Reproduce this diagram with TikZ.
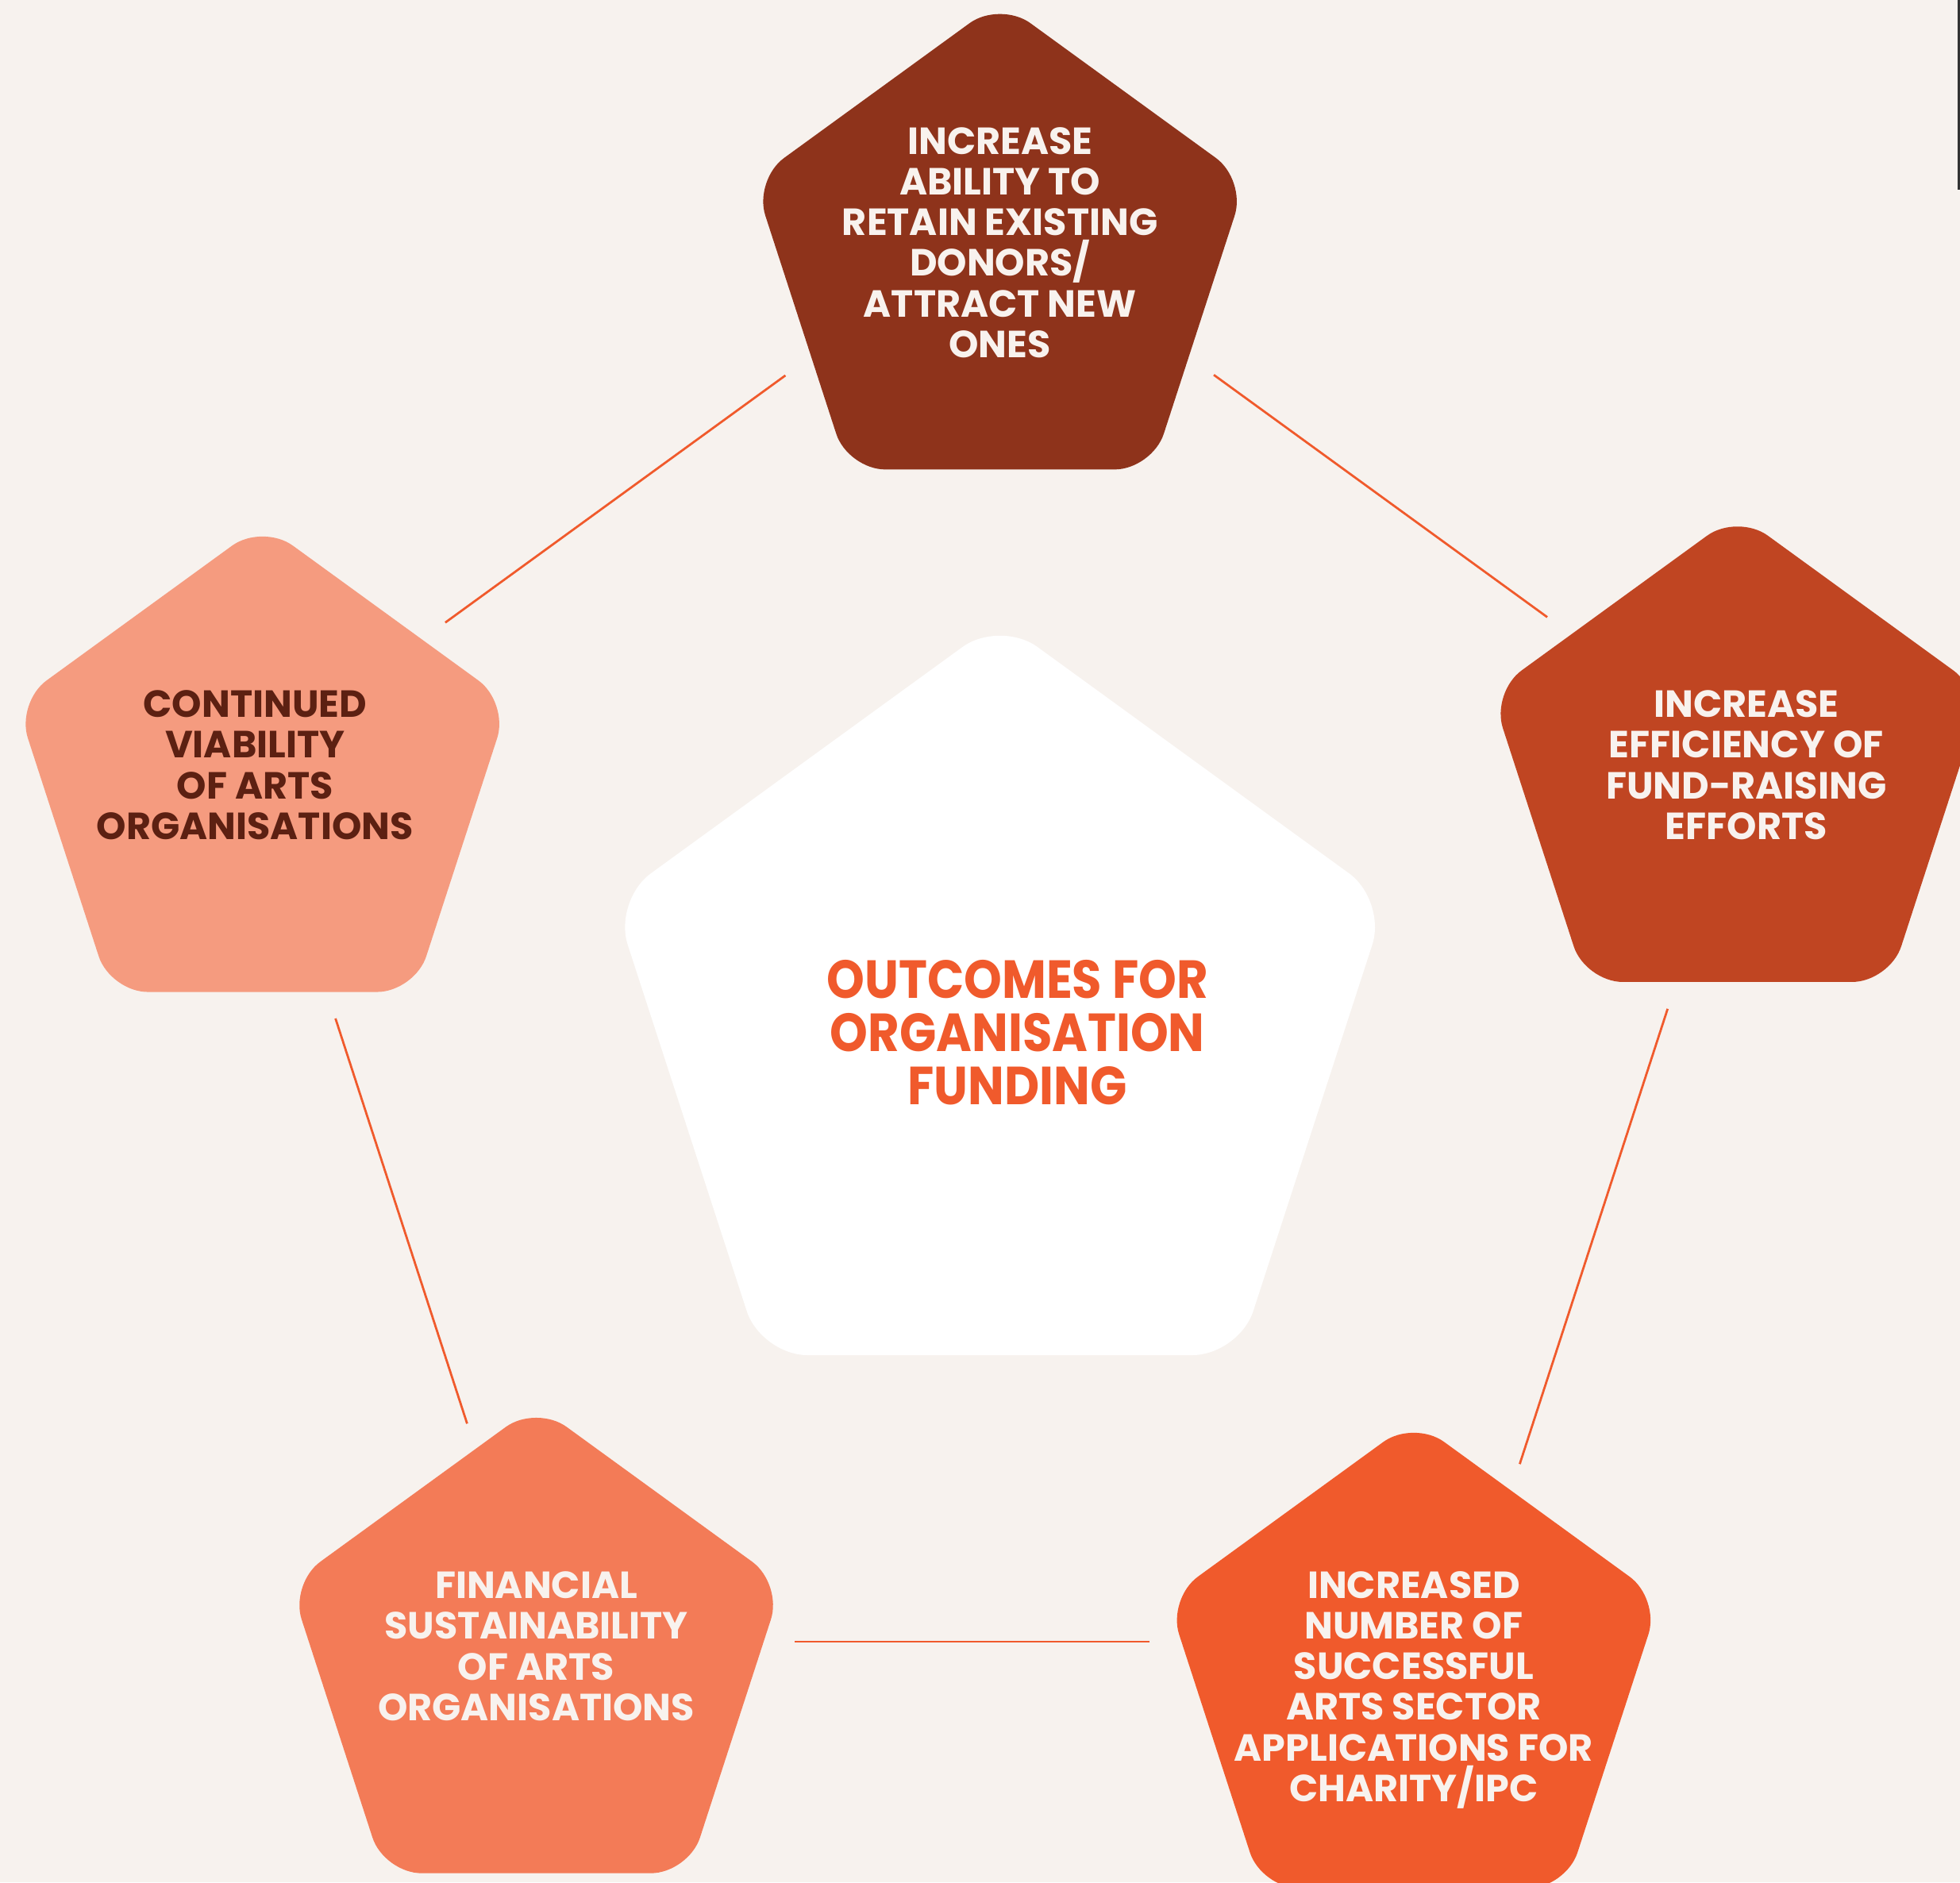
\documentclass[tikz,border=0pt]{standalone}
\usepackage{xcolor}
\usepackage{fontspec}
\newfontfamily\futura{Poppins}
\newfontfamily\futurahub[FakeStretch=0.9]{Poppins}
\usepackage{tikz}
\usetikzlibrary{shapes,backgrounds,calc}

\definecolor{paper}{HTML}{F7F2EE}
\definecolor{rust}{HTML}{8E331B}
\definecolor{brick}{HTML}{C04522}
\definecolor{flame}{HTML}{F05A2C}
\definecolor{coral}{HTML}{F37B57}
\definecolor{salmon}{HTML}{F59B7F}
\definecolor{cocoa}{HTML}{5C2012}
\definecolor{cream}{HTML}{F8F2EE}

\begin{document}
\begin{tikzpicture}[x=0.01cm, y=-0.01cm,
		penta/.style={regular polygon, regular polygon sides=5, minimum size=4.14cm,
			inner sep=0pt, outer sep=0pt, rounded corners=0.3cm},
		txt/.style={align=center, text=cream, inner sep=0pt,
			font=\futura\bfseries\fontsize{8.6}{9.25}\selectfont},
		link/.style={draw=flame, line width=0.5pt}]
		\fill[paper] (0,0) rectangle (1568,1506);
		\clip (0,0) rectangle (1568,1506);
		\fill[black!80] (1566.3,0) rectangle (1568,152);

		% ring the links run on
		\node [penta, minimum size=12.57cm, rounded corners=0pt] (ring) at (800,804.5) {};

		\begin{scope}
			\node [penta, fill=white, minimum size=6.5cm, rounded corners=0.37cm] (hub) at (800,821) {};
			\node [penta, fill=rust] (don) at (800,208) {};
			\node [penta, fill=brick] (eff) at (1390,618) {};
			\node [penta, fill=flame] (ipc) at (1131,1343) {};
			\node [penta, fill=coral] (fin) at (429,1331) {};
			\node [penta, fill=salmon] (via) at (210,626) {};

			\node [txt, text=flame, font=\futurahub\bfseries\fontsize{12.2}{12.1}\selectfont] (hub-t) at (814,826)
				{OUTCOMES FOR\\ORGANISATION\\FUNDING};
			\node [txt] (don-t) at (800,194)
				{INCREASE\\ABILITY TO\\RETAIN EXISTING\\DONORS/\\ATTRACT NEW\\ONES};
			\node [txt] (eff-t) at (1397,612) {INCREASE\\EFFICIENCY OF\\FUND-RAISING\\EFFORTS};
			\node [txt] (ipc-t) at (1131,1352)
				{INCREASED\\NUMBER OF\\SUCCESSFUL\\ARTS SECTOR\\APPLICATIONS FOR\\CHARITY/IPC};
			\node [txt] (fin-t) at (429,1317) {FINANCIAL\\SUSTAINABILITY\\OF ARTS\\ORGANISATIONS};
			\node [txt, text=cocoa] (via-t) at (204,612) {CONTINUED\\VIABILITY\\OF ARTS\\ORGANISATIONS};
		\end{scope}

		% links between the outer boxes
		\draw [link] ($(ring.corner 1)!.287!(ring.corner 2)$) -- ($(ring.corner 1)!.742!(ring.corner 2)$);
		\draw [link] ($(ring.corner 1)!.286!(ring.corner 5)$) -- ($(ring.corner 1)!.732!(ring.corner 5)$);
		\draw [link] ($(ring.corner 5)!.280!(ring.corner 4)$) -- ($(ring.corner 5)!.798!(ring.corner 4)$);
		\draw [link] ($(ring.corner 4)!.338!(ring.corner 3)$) -- ($(ring.corner 4)!.722!(ring.corner 3)$);
		\draw [link] ($(ring.corner 3)!.248!(ring.corner 2)$) -- ($(ring.corner 3)!.709!(ring.corner 2)$);
\end{tikzpicture}
\end{document}
